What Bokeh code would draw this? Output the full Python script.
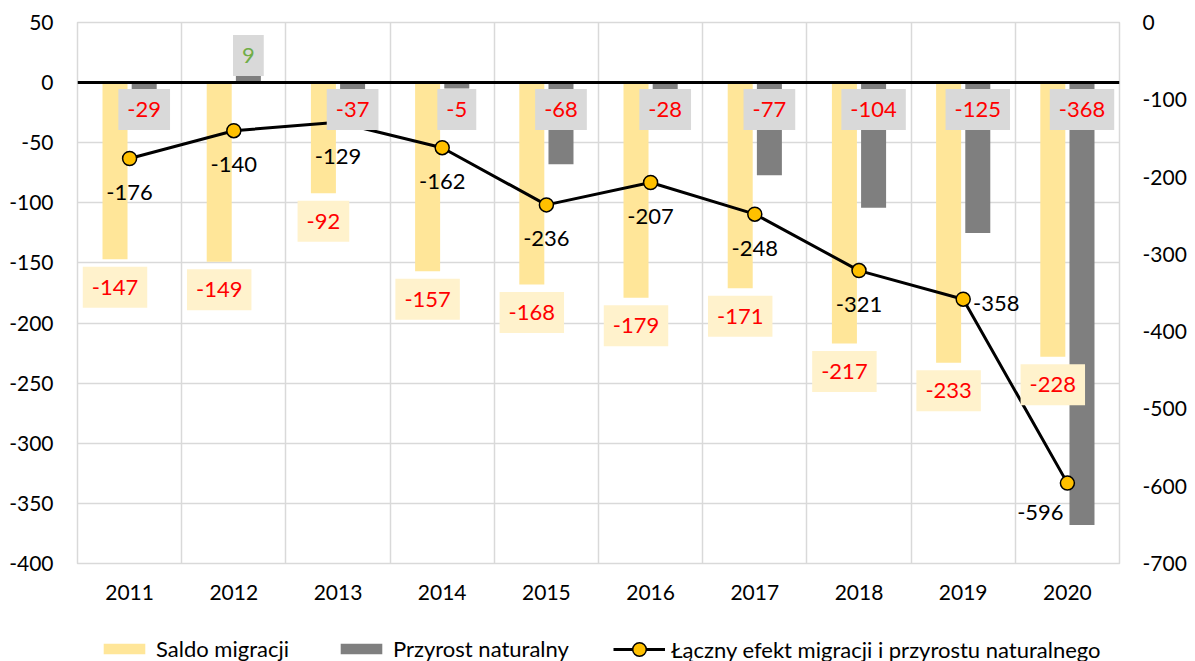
from bokeh.plotting import figure
from bokeh.layouts import column
from bokeh.models import Range1d, LinearAxis, FixedTicker, ColumnDataSource, Legend, LegendItem
from bokeh.transform import dodge
from bokeh.core.properties import value
from bokeh.embed import file_html
from bokeh.resources import INLINE

# ---- data ----
years = [2011, 2012, 2013, 2014, 2015, 2016, 2017, 2018, 2019, 2020]
saldo_migracji = [-147, -149, -92, -157, -168, -179, -171, -217, -233, -228]
przyrost_naturalny = [-29, 9, -37, -5, -68, -28, -77, -104, -125, -368]
laczny_efekt = [-176, -140, -129, -162, -236, -207, -248, -321, -358, -596]
left_ticks = [-400, -350, -300, -250, -200, -150, -100, -50, 0, 50]
right_ticks = [-700, -600, -500, -400, -300, -200, -100, 0]
series_names = ["Saldo migracji", "Przyrost naturalny",
                "Łączny efekt migracji i przyrostu naturalnego"]
# label placement for line labels (style)
line_label_pos = ["below"] * 8 + ["right", "below-left"]

FONT = "Lato"
YELLOW = "#FFE699"
GRAY = "#7F7F7F"
GRID = "#D9D9D9"
W = 1192

n = len(years)
xs = list(range(1, n + 1))

pos_off = {"below": (0, 34), "right": (33, 4), "below-left": (-27, 29)}
src = ColumnDataSource(dict(
    x=xs,
    saldo=saldo_migracji,
    przyrost=przyrost_naturalny,
    laczny=laczny_efekt,
    zero=[0] * n,
    saldo_txt=[str(v) for v in saldo_migracji],
    prz_txt=[str(v) for v in przyrost_naturalny],
    prz_off=[-27 if v > 0 else 27 for v in przyrost_naturalny],
    prz_col=["#70AD47" if v > 0 else "#FF0000" for v in przyrost_naturalny],
    lac_txt=[str(v) for v in laczny_efekt],
    lac_xoff=[pos_off[k][0] for k in line_label_pos],
    lac_yoff=[pos_off[k][1] for k in line_label_pos],
))

p = figure(width=W, height=613,
           x_range=Range1d(0.5, n + 0.5), y_range=Range1d(-400, 50),
           output_backend="svg", toolbar_location=None,
           min_border_left=77, min_border_right=W - 77 - 1042,
           min_border_top=22, min_border_bottom=50)
p.extra_y_ranges = {"right": Range1d(-700, 0)}
p.outline_line_color = GRID
p.outline_line_width = 1.5
p.background_fill_color = "white"
p.border_fill_color = "white"

# grids
p.ygrid.ticker = FixedTicker(ticks=left_ticks)
p.xgrid.ticker = FixedTicker(ticks=[i + 0.5 for i in range(0, n + 1)])
for g in (p.xgrid, p.ygrid):
    g.grid_line_color = GRID
    g.grid_line_width = 1.5

# axes
def style_axis(ax, standoff):
    ax.axis_line_color = None
    ax.major_tick_line_color = None
    ax.minor_tick_line_color = None
    ax.major_tick_out = 0
    ax.major_tick_in = 0
    ax.major_label_standoff = standoff
    ax.major_label_text_font = FONT
    ax.major_label_text_font_size = "21px"
    ax.major_label_text_color = "#000000"

p.xaxis.ticker = FixedTicker(ticks=xs)
p.xaxis.major_label_overrides = {x: str(y) for x, y in zip(xs, years)}
style_axis(p.xaxis[0], 21)

p.yaxis.ticker = FixedTicker(ticks=left_ticks)
p.yaxis.major_label_overrides = {t: str(t) for t in left_ticks}
style_axis(p.yaxis[0], 24)

rax = LinearAxis(y_range_name="right", ticker=FixedTicker(ticks=right_ticks))
rax.major_label_overrides = {t: str(t) for t in right_ticks}
style_axis(rax, 23)
p.add_layout(rax, "right")

# bars
p.vbar(x=dodge("x", -0.14), top="saldo", bottom=0, width=0.24,
       fill_color=YELLOW, line_color=None, source=src)
p.vbar(x=dodge("x", 0.14), top="przyrost", bottom=0, width=0.24,
       fill_color=GRAY, line_color=None, source=src)

# zero baseline
p.hspan(y=[0], line_color="black", line_width=3)

# line on right axis
p.line(x="x", y="laczny", y_range_name="right", line_color="black",
       line_width=3, source=src)
p.scatter(x="x", y="laczny", y_range_name="right", size=14,
          fill_color="#FFC000", line_color="black", line_width=1.5,
          source=src)

# data labels
pad = dict(left=9, right=9, top=13, bottom=13)
p.text(x=dodge("x", -0.14), y="saldo", text="saldo_txt", y_offset=28,
       text_align="center", text_baseline="middle", text_color="#FF0000",
       text_font=value(FONT), text_font_size="22px",
       background_fill_color="#FFF2CC", padding=pad, source=src)
p.text(x=dodge("x", 0.14), y="zero", text="prz_txt", y_offset="prz_off",
       text_align="center", text_baseline="middle", text_color="prz_col",
       text_font=value(FONT), text_font_size="22px",
       background_fill_color="#D9D9D9", padding=pad, source=src)
p.text(x="x", y="laczny", y_range_name="right", text="lac_txt",
       x_offset="lac_xoff", y_offset="lac_yoff",
       text_align="center", text_baseline="middle", text_color="#000000",
       text_font=value(FONT), text_font_size="22px", source=src)

# legend strip (separate figure below the chart; frame aligned with chart)
lf = figure(width=W, height=48, x_range=Range1d(0, 1), y_range=Range1d(0, 1),
            output_backend="svg", toolbar_location=None,
            x_axis_type=None, y_axis_type=None,
            min_border_left=77, min_border_right=W - 77 - 1042,
            min_border_top=0, min_border_bottom=0)
lf.outline_line_color = None
lf.xgrid.visible = False
lf.ygrid.visible = False
# legend-only proxies placed outside the visible range
proxy = ColumnDataSource(dict(x=[-5], y=[-5], top=[-4]))
g_saldo = lf.vbar(x="x", top="top", bottom="y", width=0.1, fill_color=YELLOW,
                  line_color=None, source=proxy)
g_prz = lf.vbar(x="x", top="top", bottom="y", width=0.1, fill_color=GRAY,
                line_color=None, source=proxy)
g_line = lf.line(x="x", y="y", line_color="black", line_width=3, source=proxy)
g_pts = lf.scatter(x="x", y="y", size=14, fill_color="#FFC000", line_color="black",
                   line_width=1.5, source=proxy)

def make_legend(label, renderers, loc, gh):
    lg = Legend(items=[LegendItem(label=label, renderers=renderers, index=0)],
                location=loc, orientation="horizontal",
                border_line_color=None, background_fill_alpha=0,
                padding=0, margin=0, glyph_width=52, glyph_height=gh,
                label_standoff=6, label_text_font=FONT,
                label_text_font_size="22px", label_text_color="#000000")
    lf.add_layout(lg)

make_legend(series_names[0], [g_saldo], (21, -1), 13)
make_legend(series_names[1], [g_prz], (258, -1), 13)
make_legend(series_names[2], [g_line, g_pts], (536, -5), 34)

layout = column(p, lf, spacing=0)
open("out.html", "w").write(file_html(layout, INLINE))
